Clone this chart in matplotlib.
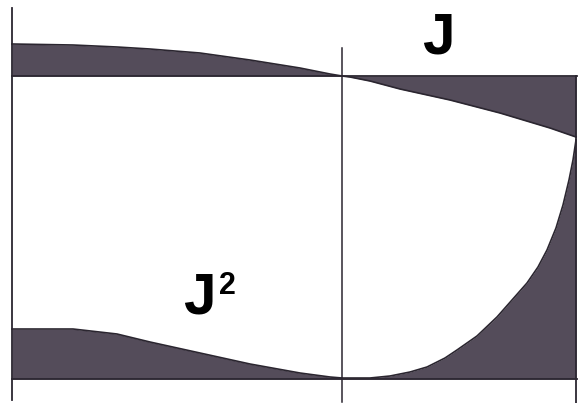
import matplotlib.pyplot as plt

# curve data (x along the beam, y in picture units, downwards)
x_left = [12, 73, 117, 150, 200, 250, 300, 330, 342]
j_left = [44, 45, 47, 49, 53, 60, 68, 74, 76]
j2_left = [329, 329, 334, 342, 353, 364, 373, 377, 378]

x_right = [342, 350, 370, 400, 450, 500, 550, 576]
j_right = [76, 77, 81, 89, 100, 113, 128, 137]

x_right2 = [342, 370, 390, 410, 427, 445, 457, 477, 497, 512, 527, 538,
            547, 556, 563, 569, 573, 576]
j2_right = [378, 378, 376, 372, 367, 358, 350, 336, 317, 300, 283, 267,
            250, 228, 205, 180, 160, 140]

j_base = 76
j2_base = 379
x_mid = 342

fill = '#544c5a'
edge = '#2b2630'

fig = plt.figure(figsize=(5.79, 4.03), dpi=100)
ax = fig.add_axes([0, 0, 1, 1])
ax.set_xlim(0, 579)
ax.set_ylim(403, 0)
ax.axis('off')

# J bands
ax.fill_between(x_left, j_left, j_base, color=fill, lw=0)
ax.fill_between(x_right, j_base, j_right, color=fill, lw=0)
ax.plot(x_left, j_left, color=edge, lw=1.2)
ax.plot(x_right, j_right, color=edge, lw=1.2)

# J^2 bands
ax.fill_between(x_left, j2_left, j2_base, color=fill, lw=0)
ax.fill_between(x_right2, j2_right, j2_base, color=fill, lw=0)
ax.plot(x_left, j2_left, color=edge, lw=1.2)
ax.plot(x_right2, j2_right, color=edge, lw=1.2)

# frame lines
ax.plot([12, 12], [8, 400], color=edge, lw=1.3)
ax.plot([x_mid, x_mid], [48, 402], color=edge, lw=1.1)
ax.plot([576, 576], [j_base, 403], color=edge, lw=1.3)
ax.plot([12, 577], [j_base, j_base], color=edge, lw=1.3)
ax.plot([12, 577], [j2_base, j2_base], color=edge, lw=1.3)

ax.text(438, 54, 'J', fontsize=42, fontweight='bold', family='Liberation Sans',
        ha='center', va='baseline')
ax.text(199, 314, 'J', fontsize=42, fontweight='bold', family='Liberation Sans',
        ha='center', va='baseline')
ax.text(227, 294, '2', fontsize=22, fontweight='bold', family='Liberation Sans',
        ha='center', va='baseline')

fig.savefig('out.png', dpi=100)
